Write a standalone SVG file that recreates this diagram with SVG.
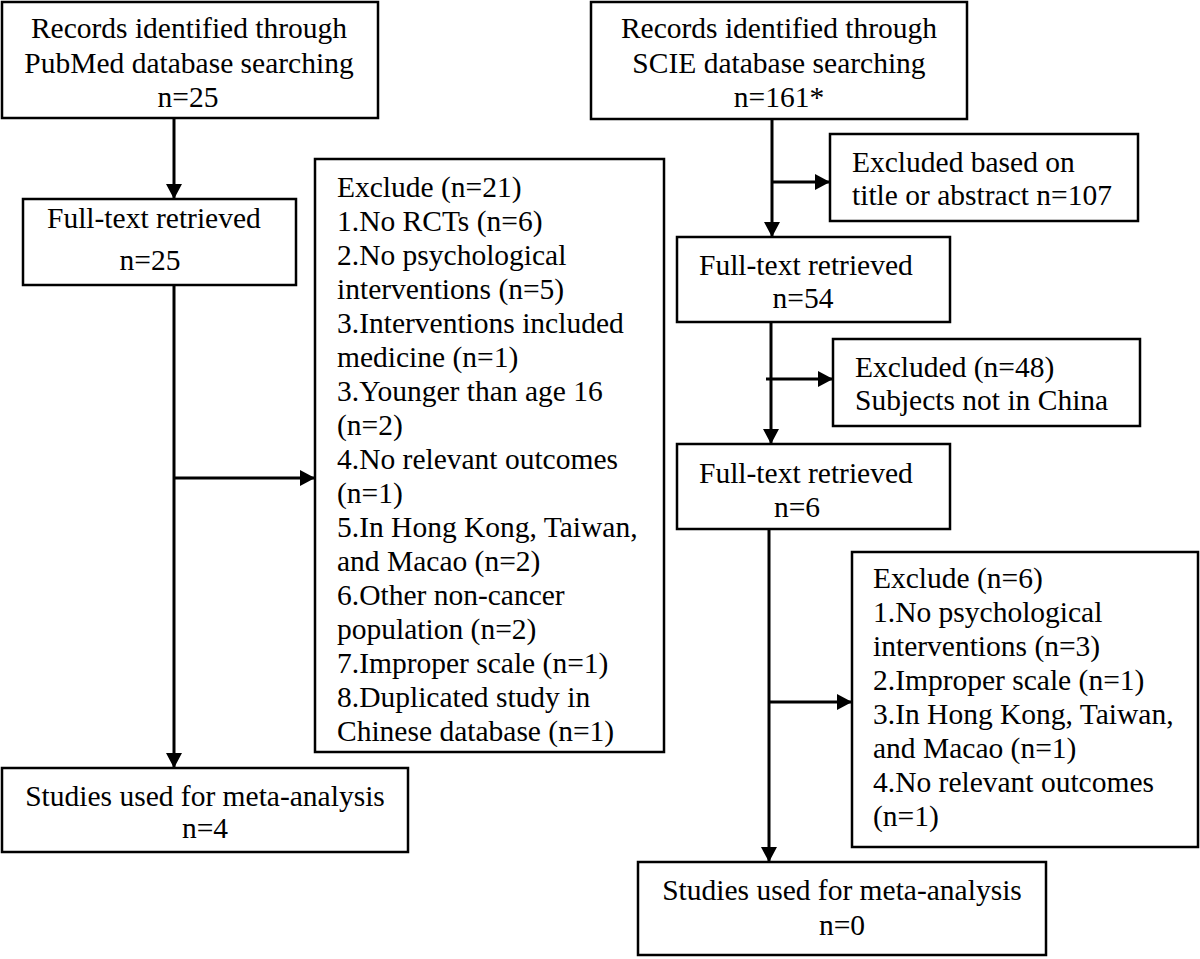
<svg xmlns="http://www.w3.org/2000/svg" width="1200" height="959" viewBox="0 0 1200 959">
<defs>
<style>
.box{fill:#fff;stroke:#000;stroke-width:2.5}
.t{font-family:"Liberation Serif","Times New Roman",serif;font-size:29.5px;fill:#000}
.m{text-anchor:middle}
.c{fill:none;stroke:#000;stroke-width:3}
</style>
<marker id="ah" markerWidth="16" markerHeight="16" refX="15" refY="8" orient="auto" markerUnits="userSpaceOnUse"><path d="M0,0 L15,8 L0,16 z" fill="#000"/></marker>
</defs>
<rect width="1200" height="959" fill="#fff"/>
<g id="connectors">
<line class="c" x1="174" y1="118" x2="174" y2="199" marker-end="url(#ah)"/>
<line class="c" x1="174" y1="285" x2="174" y2="768" marker-end="url(#ah)"/>
<line class="c" x1="174" y1="478" x2="315" y2="478" marker-end="url(#ah)"/>
<line class="c" x1="772" y1="119" x2="772" y2="237" marker-end="url(#ah)"/>
<line class="c" x1="772" y1="182" x2="830" y2="182" marker-end="url(#ah)"/>
<line class="c" x1="771" y1="322" x2="771" y2="444" marker-end="url(#ah)"/>
<line class="c" x1="766" y1="379" x2="833" y2="379" marker-end="url(#ah)"/>
<line class="c" x1="769" y1="529" x2="769" y2="862" marker-end="url(#ah)"/>
<line class="c" x1="769" y1="702" x2="852" y2="702" marker-end="url(#ah)"/>
</g>
<g id="pubmed">
<rect class="box" x="2" y="2" width="376" height="116"/>
<text class="t m" x="189" y="38">Records identified through</text>
<text class="t m" x="189" y="73">PubMed database searching</text>
<text class="t m" x="188" y="107">n=25</text>
</g>
<g id="fulltext-left">
<rect class="box" x="23" y="199" width="273" height="86"/>
<text class="t" x="47" y="228">Full-text retrieved</text>
<text class="t m" x="150" y="270">n=25</text>
</g>
<g id="exclude-left">
<rect class="box" x="315" y="159" width="349" height="593"/>
<text class="t" x="337" y="197">Exclude (n=21)</text>
<text class="t" x="337" y="231">1.No RCTs (n=6)</text>
<text class="t" x="337" y="265">2.No psychological</text>
<text class="t" x="337" y="299">interventions (n=5)</text>
<text class="t" x="337" y="333">3.Interventions included</text>
<text class="t" x="337" y="367">medicine (n=1)</text>
<text class="t" x="337" y="401">3.Younger than age 16</text>
<text class="t" x="337" y="435">(n=2)</text>
<text class="t" x="337" y="469">4.No relevant outcomes</text>
<text class="t" x="337" y="503">(n=1)</text>
<text class="t" x="337" y="537">5.In Hong Kong, Taiwan,</text>
<text class="t" x="337" y="571">and Macao (n=2)</text>
<text class="t" x="337" y="605">6.Other non-cancer</text>
<text class="t" x="337" y="639">population (n=2)</text>
<text class="t" x="337" y="673">7.Improper scale (n=1)</text>
<text class="t" x="337" y="707">8.Duplicated study in</text>
<text class="t" x="337" y="741">Chinese database (n=1)</text>
</g>
<g id="studies-left">
<rect class="box" x="2" y="768" width="406" height="84"/>
<text class="t m" x="205" y="806">Studies used for meta-analysis</text>
<text class="t m" x="205" y="838">n=4</text>
</g>
<g id="scie">
<rect class="box" x="591" y="2" width="376" height="117"/>
<text class="t m" x="779" y="38">Records identified through</text>
<text class="t m" x="779" y="73">SCIE database searching</text>
<text class="t m" x="779" y="107">n=161*</text>
</g>
<g id="excluded-title">
<rect class="box" x="830" y="134" width="308" height="87"/>
<text class="t" x="852" y="172">Excluded based on</text>
<text class="t" x="852" y="205">title or abstract n=107</text>
</g>
<g id="fulltext-54">
<rect class="box" x="677" y="237" width="273" height="85"/>
<text class="t" x="699" y="275">Full-text retrieved</text>
<text class="t m" x="803" y="308">n=54</text>
</g>
<g id="excluded-48">
<rect class="box" x="833" y="339" width="307" height="87"/>
<text class="t" x="855" y="377">Excluded (n=48)</text>
<text class="t" x="855" y="410">Subjects not in China</text>
</g>
<g id="fulltext-6">
<rect class="box" x="677" y="444" width="273" height="85"/>
<text class="t" x="699" y="483">Full-text retrieved</text>
<text class="t m" x="797" y="517">n=6</text>
</g>
<g id="exclude-right">
<rect class="box" x="852" y="552" width="346" height="295"/>
<text class="t" x="873" y="588">Exclude (n=6)</text>
<text class="t" x="873" y="622">1.No psychological</text>
<text class="t" x="873" y="656">interventions (n=3)</text>
<text class="t" x="873" y="690">2.Improper scale (n=1)</text>
<text class="t" x="873" y="724">3.In Hong Kong, Taiwan,</text>
<text class="t" x="873" y="758">and Macao (n=1)</text>
<text class="t" x="873" y="792">4.No relevant outcomes</text>
<text class="t" x="873" y="826">(n=1)</text>
</g>
<g id="studies-right">
<rect class="box" x="638" y="862" width="408" height="93"/>
<text class="t m" x="842" y="900">Studies used for meta-analysis</text>
<text class="t m" x="842" y="935">n=0</text>
</g>
</svg>
